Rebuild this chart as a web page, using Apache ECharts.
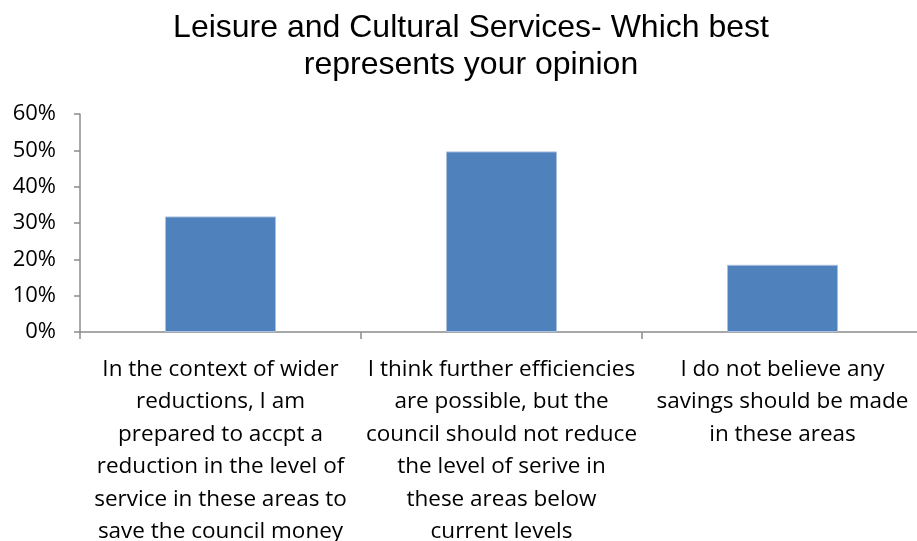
<!DOCTYPE html>
<html>
<head>
<meta charset="utf-8">
<script src="https://cdn.jsdelivr.net/npm/echarts@6/dist/echarts.min.js"></script>
<style>
  html, body { margin: 0; padding: 0; background: #fff; }
  #chart { width: 917px; height: 541px; }
</style>
</head>
<body>
<div id="chart"></div>
<script>
// Survey responses: share of respondents choosing each statement
const titleText = 'Leisure and Cultural Services- Which best\nrepresents your opinion';
const categories = [
  'In the context of wider\nreductions, I am\nprepared to accpt a\nreduction in the level of\nservice in these areas to\nsave the council money',
  'I think further efficiencies\nare possible, but the\ncouncil should not reduce\nthe level of serive in\nthese areas below\ncurrent levels',
  'I do not believe any\nsavings should be made\nin these areas'
];
const shares = [31.8, 49.7, 18.5];
const yTicks = [0, 10, 20, 30, 40, 50, 60];

const axisGrey = '#8c8c8c';
const labelFont = '"Open Sans", Lato, sans-serif';

const chart = echarts.init(document.getElementById('chart'), null, { renderer: 'canvas' });
chart.setOption({
  animation: false,
  backgroundColor: '#ffffff',
  title: {
    text: titleText,
    left: 466,
    top: 5,
    textAlign: 'center',
    textStyle: {
      fontFamily: '"Liberation Sans", Arial, sans-serif',
      fontSize: 32,
      fontWeight: 'normal',
      color: '#000',
      lineHeight: 37
    }
  },
  grid: {
    left: 80, top: 114, width: 843, height: 218,
    containLabel: false,
    outerBoundsMode: 'none'
  },
  xAxis: {
    type: 'category',
    data: categories,
    axisLine: { lineStyle: { color: axisGrey, width: 1.5 } },
    axisTick: { show: true, length: 7, alignWithLabel: false, lineStyle: { color: axisGrey, width: 1.5 } },
    axisLabel: {
      interval: 0,
      margin: 21,
      color: '#000',
      fontFamily: labelFont,
      fontSize: 22.5,
      lineHeight: 32.5,
      align: 'center'
    },
    splitLine: { show: false }
  },
  yAxis: {
    type: 'value',
    min: yTicks[0],
    max: yTicks[yTicks.length - 1],
    interval: 10,
    axisLine: { show: true, lineStyle: { color: axisGrey, width: 1.5 } },
    axisTick: { show: true, length: 6, lineStyle: { color: axisGrey, width: 1.5 } },
    axisLabel: {
      margin: 24,
      color: '#000',
      fontFamily: labelFont,
      fontSize: 22,
      formatter: v => v + '%'
    },
    splitLine: { show: false }
  },
  series: [{
    type: 'bar',
    data: shares,
    barWidth: 111,
    itemStyle: { color: '#4f81bd', borderColor: '#a9c0de', borderWidth: 1 }
  }]
});
</script>
</body>
</html>
